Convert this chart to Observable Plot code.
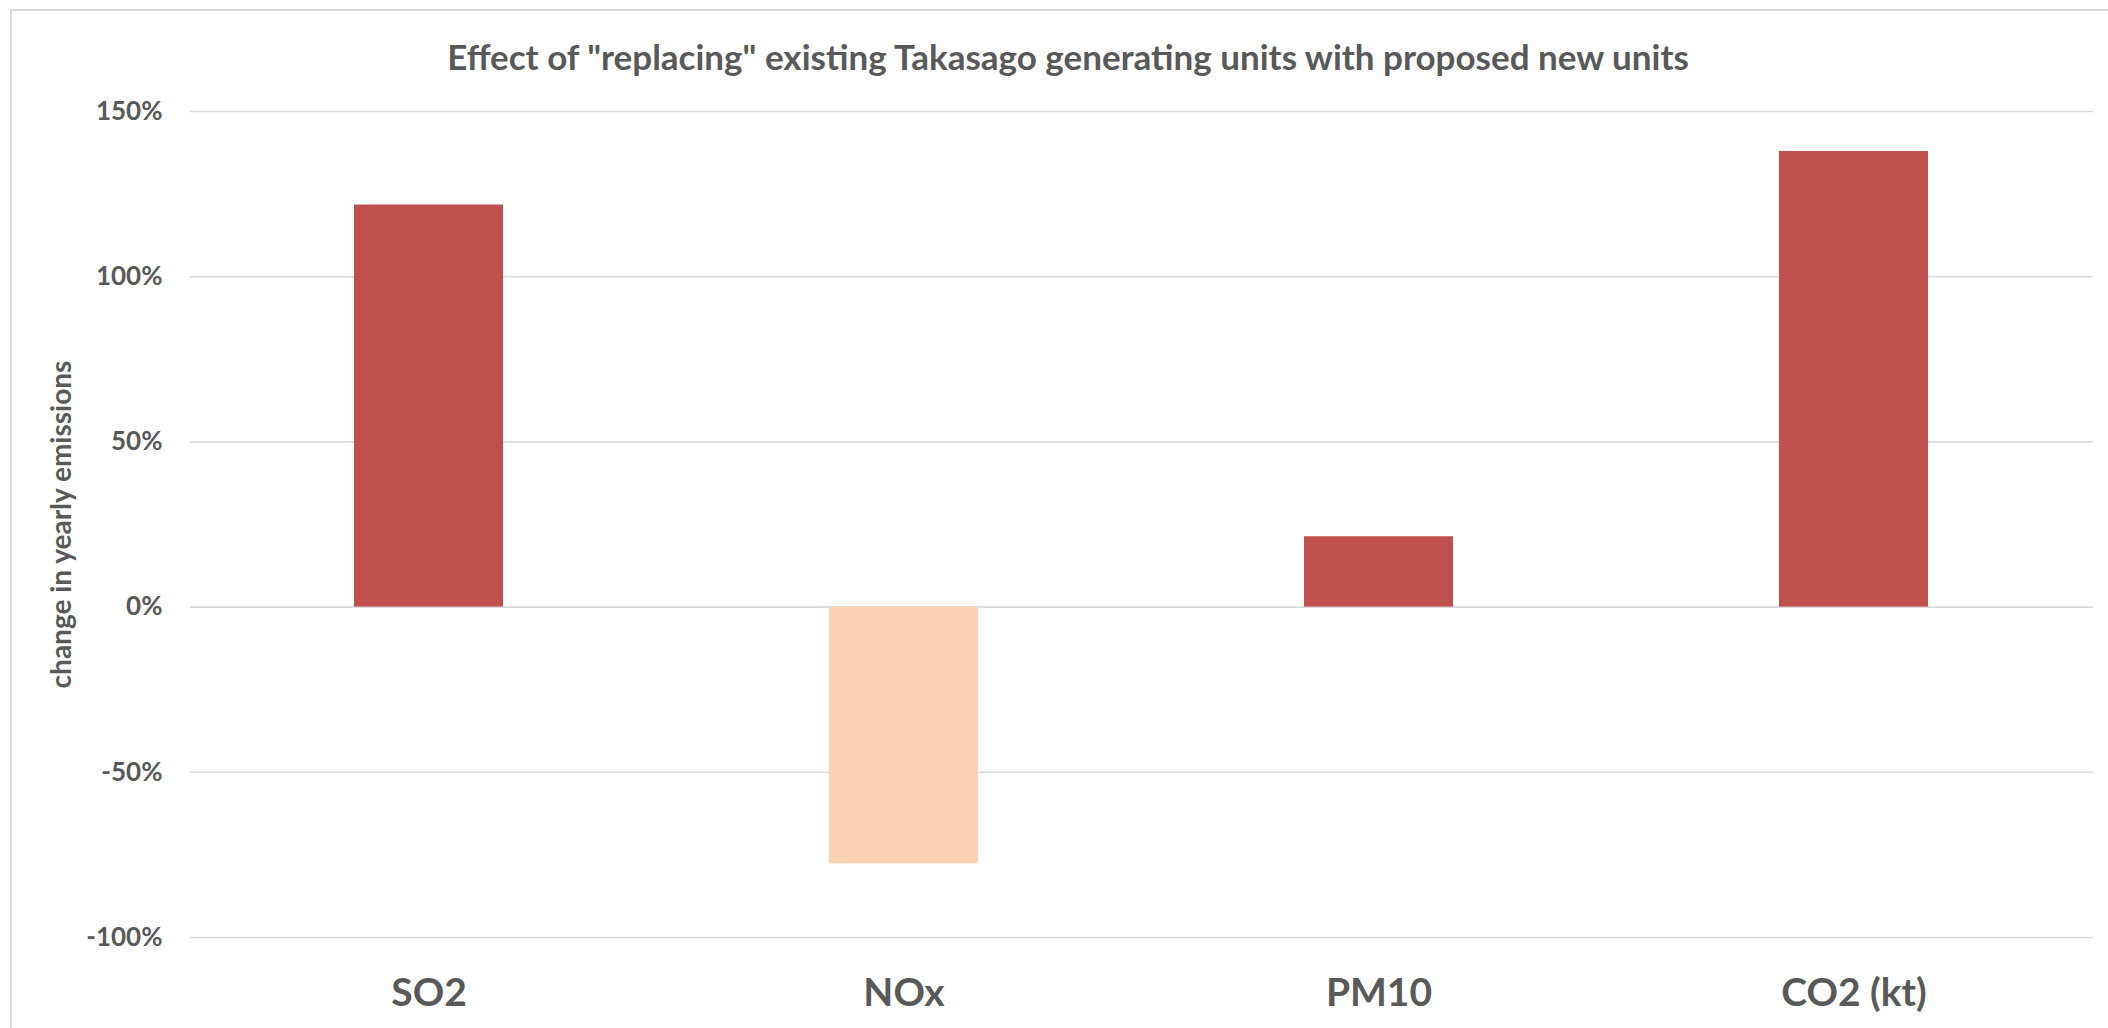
<!DOCTYPE html>
<html>
<head>
<meta charset="utf-8">
<script src="https://cdn.jsdelivr.net/npm/d3@7"></script>
<script src="https://cdn.jsdelivr.net/npm/@observablehq/plot@0.6"></script>
<style>
  html, body { margin: 0; padding: 0; background: #fff; overflow: hidden; }
  #wrap { position: relative; width: 2108px; height: 1028px; }
  #frame { position: absolute; left: 10px; top: 9px; width: 2300px; height: 1300px; border: 2px solid #d9d9d9; box-sizing: border-box; pointer-events: none; }
  #chart { position: absolute; left: 0; top: 0; }
</style>
</head>
<body>
<div id="wrap"><div id="chart"></div><div id="frame"></div></div>
<script>
const title = "Effect of \"replacing\" existing Takasago generating units with proposed new units";
const yLabel = "change in yearly emissions";
const categories = ["SO2", "NOx", "PM10", "CO2 (kt)"];
const values = [1.217, -0.777, 0.213, 1.379];
const yTicks = [-1, -0.5, 0, 0.5, 1, 1.5];
const yTickLabels = ["-100%", "-50%", "0%", "50%", "100%", "150%"];

const data = categories.map((c, i) => ({category: c, value: values[i]}));

const textColor = "#595959";
const posColor = "#C0504D";
const negColor = "#FAD3B5";

const chart = Plot.plot({
  width: 2108,
  height: 1028,
  marginTop: 111,
  marginBottom: 91,
  marginLeft: 190,
  marginRight: 15,
  style: {fontFamily: "Lato, 'Open Sans', sans-serif", fontWeight: "bold", color: textColor, background: "transparent"},
  x: {domain: categories, paddingInner: 0.686, paddingOuter: 0.343, label: null},
  y: {domain: [-1, 1.5], label: null},
  color: {type: "identity"},
  marks: [
    Plot.gridY(yTicks, {stroke: "#d9d9d9", strokeOpacity: 1, strokeWidth: 1.6}),
    Plot.barY(data, {x: "category", y: "value", fill: d => d.value < 0 ? negColor : posColor}),
    Plot.axisY(yTicks, {tickSize: 0, tickPadding: 28, fontSize: 26, fill: textColor,
      tickFormat: d => yTickLabels[yTicks.indexOf(d)], label: null}),
    Plot.axisX({tickSize: 0, tickPadding: 41, fontSize: 39, fill: textColor, label: null}),
    Plot.text([yLabel], {frameAnchor: "left", rotate: -90, dx: -128, textAnchor: "middle",
      fontSize: 28, fontWeight: "bold", fill: textColor}),
    Plot.text([title], {frameAnchor: "top", dx: -74, dy: -66, textAnchor: "middle",
      fontSize: 35, fontWeight: "bold", fill: textColor})
  ]
});
document.getElementById("chart").appendChild(chart);
</script>
</body>
</html>
